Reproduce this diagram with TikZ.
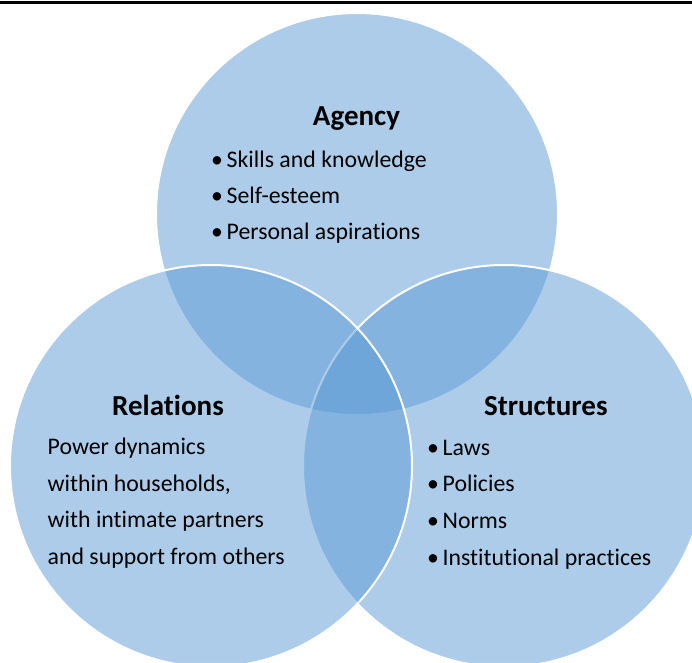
\documentclass[tikz,border=0pt]{standalone}
\usepackage{fontspec}
\setmainfont{Carlito}[Ligatures=NoCommon]
\definecolor{vblue}{HTML}{5B9BD5}
\begin{document}
\begin{tikzpicture}[x=1pt,y=-1pt,
  circ/.style={fill=vblue,fill opacity=0.5,draw=white,draw opacity=1,line width=2pt},
  head/.style={anchor=base,inner sep=0pt,font=\fontsize{29}{34}\selectfont\bfseries},
  body/.style={anchor=base west,inner sep=0pt,font=\fontsize{23.8}{28}\selectfont},
]
\useasboundingbox (0,0) rectangle (692,662);
\clip (0,0) rectangle (692,662);
\fill[white] (0,0) rectangle (692,662);
\draw[line width=3pt] (0,2) coordinate (tl) -- (692,2) coordinate (tr);
\path[circ] (357,214) circle[radius=201pt];
\path[circ] (504,466) circle[radius=201pt];
\path[circ] (211,466) circle[radius=201pt];
% Agency
\node[head] (ah) at (356.5,125) {Agency};
\node[body] (a1) at (211,167) {\makebox[15.5pt][l]{•}Skills and knowledge};
\node[body] (a2) at (211,203) {\makebox[15.5pt][l]{•}Self-esteem};
\node[body] (a3) at (211,239) {\makebox[15.5pt][l]{•}Personal aspirations};
% Relations
\node[head] (rh) at (168,415) {Relations};
\node[body] (r1) at (47.5,454) {Power dynamics};
\node[body] (r2) at (47.5,491) {within households,};
\node[body] (r3) at (47.5,527.5) {with intimate partners};
\node[body] (r4) at (47.5,564) {and support from others};
% Structures
\node[head] (sh) at (545.8,415) {Structures};
\node[body] (s1) at (427,455) {\makebox[15.5pt][l]{•}Laws};
\node[body] (s2) at (427,491.5) {\makebox[15.5pt][l]{•}Policies};
\node[body] (s3) at (427,528) {\makebox[15.5pt][l]{•}Norms};
\node[body] (s4) at (427,565) {\makebox[15.5pt][l]{•}Institutional practices};
\end{tikzpicture}
\end{document}
